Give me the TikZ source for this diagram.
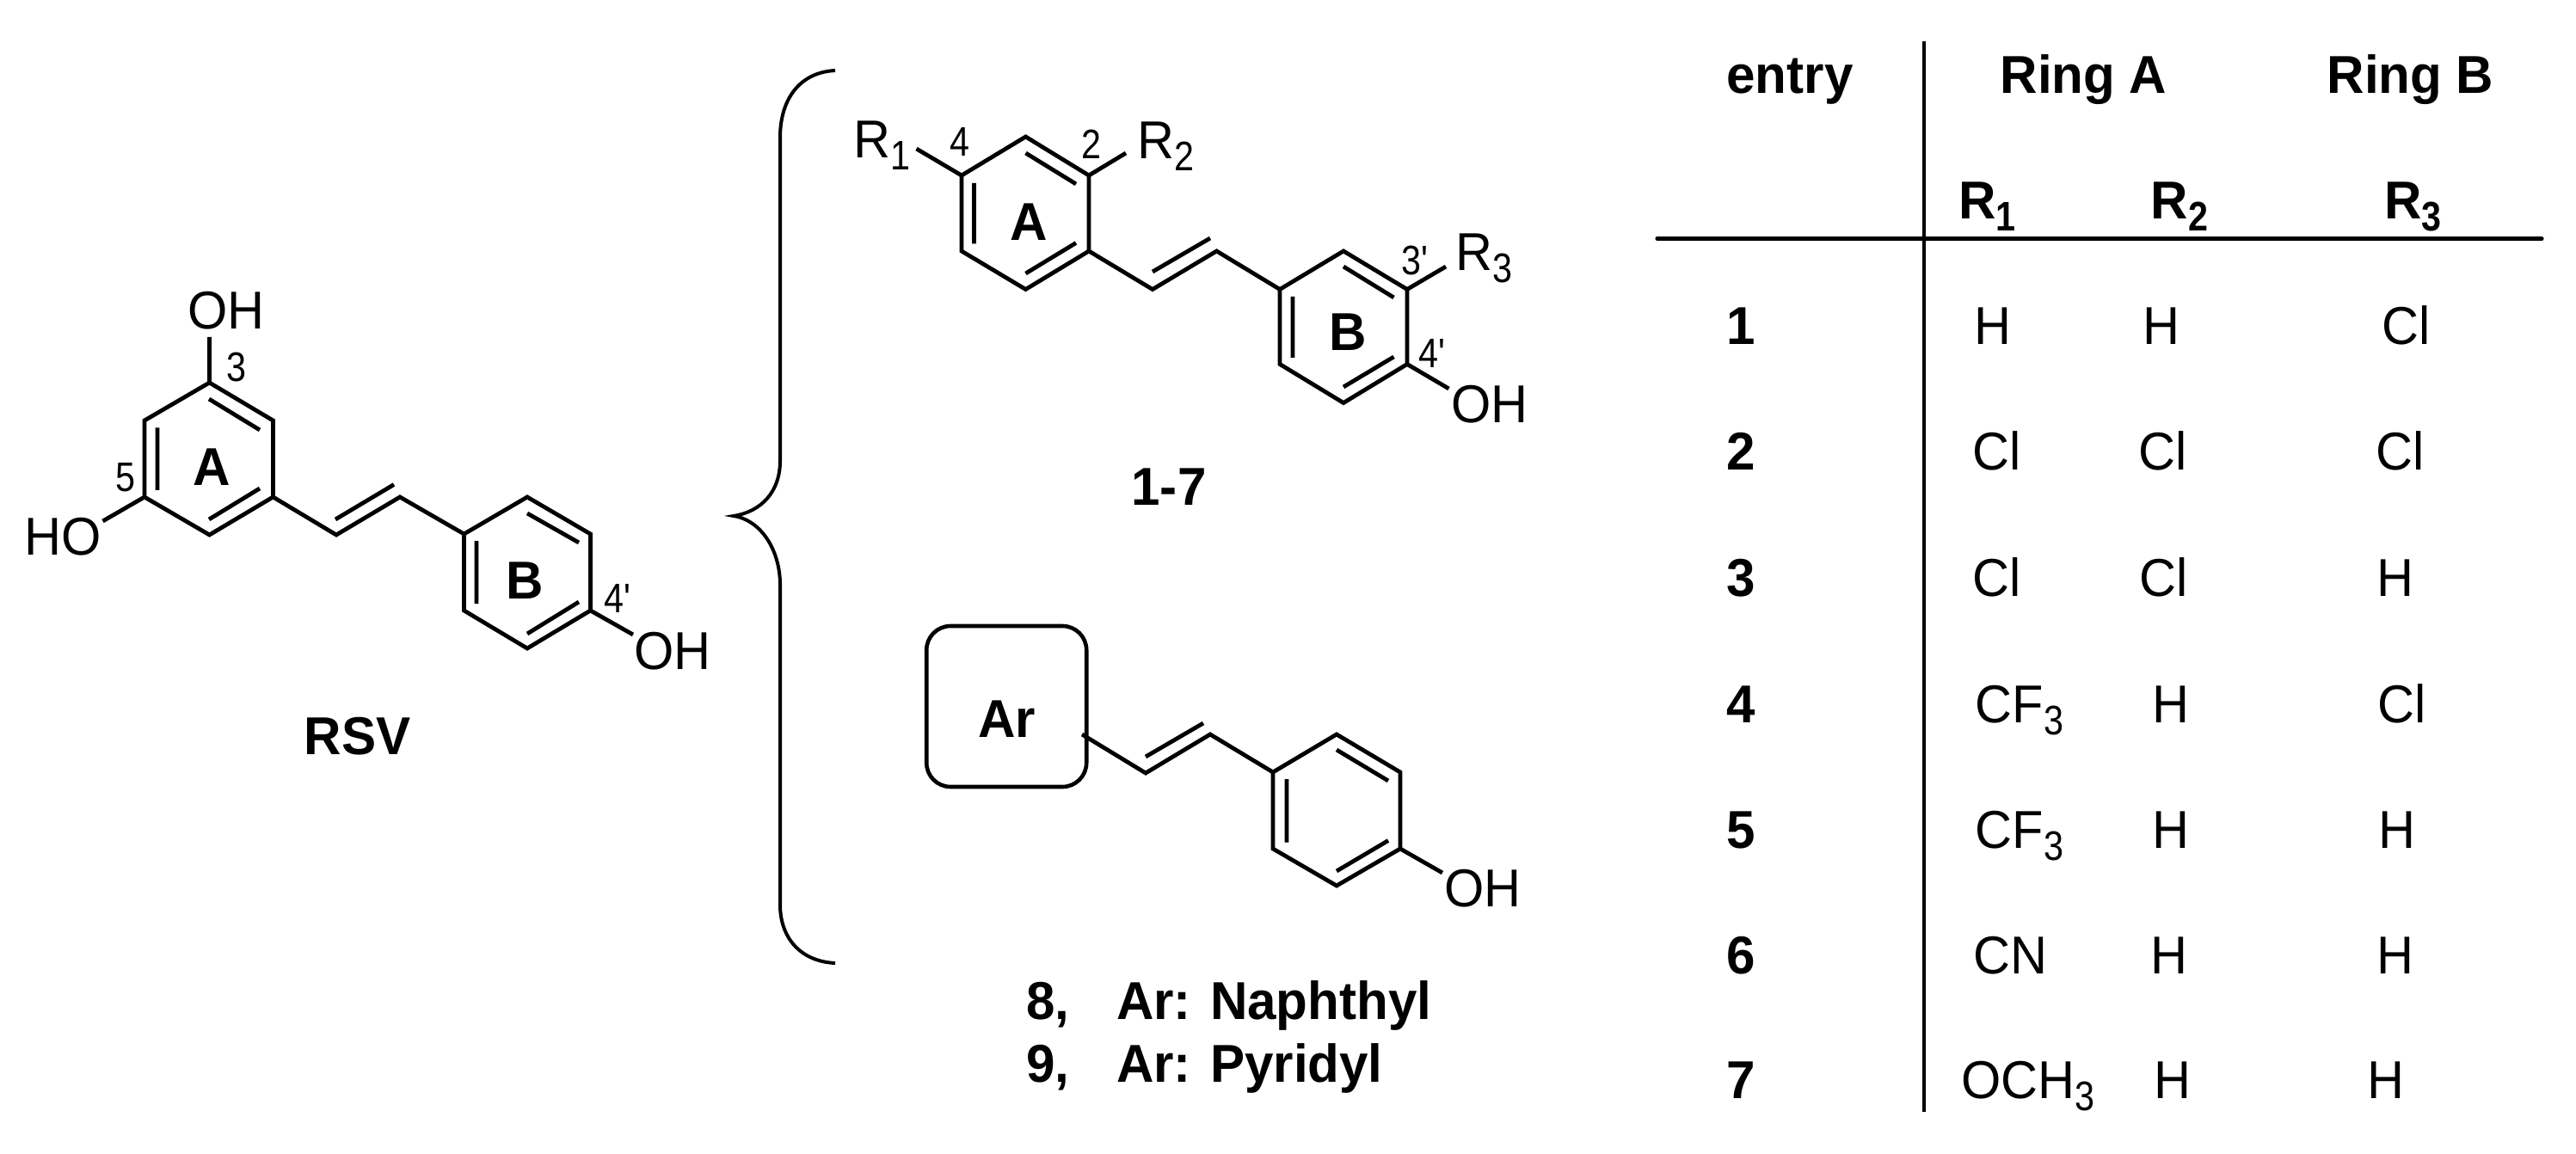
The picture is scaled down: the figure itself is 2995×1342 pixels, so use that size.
\documentclass[tikz,border=0pt]{standalone}
\usepackage{fontspec}
\setmainfont[FakeStretch=0.96,BoldFeatures={FakeStretch=0.97}]{Liberation Sans}
\newfontfamily\numfont[FakeStretch=0.86]{Liberation Sans}
\newcommand{\subdown}[1]{\raisebox{-7pt}{\numfont\fontsize{24}{24}\selectfont #1}}
\newcommand{\subdownb}[1]{\raisebox{-7pt}{\numfont\bfseries\fontsize{24}{24}\selectfont #1}}
\tikzset{
  x=0.5pt,y=-0.5pt,
  bond/.style={line width=2.4pt,line join=miter,line cap=butt,black},
  lab/.style={inner sep=0pt,outer sep=0pt,anchor=base,font=\fontsize{31}{31}\selectfont},
  blab/.style={inner sep=0pt,outer sep=0pt,anchor=base,font=\fontsize{31}{31}\selectfont\bfseries},
  num/.style={inner sep=0pt,outer sep=0pt,anchor=base,font=\numfont\fontsize{24}{24}\selectfont},
}
\begin{document}
\begin{tikzpicture}
\path[use as bounding box] (0,0) rectangle (2995,1342);
% ---------- RSV ----------
\coordinate (a1) at (243.5,445); \coordinate (a2) at (317.5,489); \coordinate (a3) at (317.5,578);
\coordinate (a4) at (243.5,622); \coordinate (a5) at (168,578); \coordinate (a6) at (168,489);
\coordinate (v1) at (391,622); \coordinate (v2) at (465,578);
\coordinate (b1) at (539.5,621); \coordinate (b2) at (613,578); \coordinate (b3) at (686.5,621);
\coordinate (b4) at (686.5,710); \coordinate (b5) at (613,754); \coordinate (b6) at (539.5,710);
\coordinate (oh1) at (243.5,392); \coordinate (oh2) at (119.5,606); \coordinate (oh3) at (736,738);
\draw[bond] (a1)--(a2)--(a3)--(a4)--(a5)--(a6)--cycle;
\draw[bond] (b1)--(b2)--(b3)--(b4)--(b5)--(b6)--cycle;
\draw[bond] (a3)--(v1)--(v2)--(b1);
\draw[bond] (a1)--(oh1) (a5)--(oh2) (b4)--(oh3);
\coordinate (ai1s) at (243,464); \coordinate (ai1e) at (302,500);
\coordinate (ai2s) at (183,497.5); \coordinate (ai2e) at (183,570);
\coordinate (ai3s) at (243,604); \coordinate (ai3e) at (302,568);
\coordinate (vis) at (390,604); \coordinate (vie) at (458,563.5);
\coordinate (bi1s) at (613,597); \coordinate (bi1e) at (673,631);
\coordinate (bi2s) at (554,629); \coordinate (bi2e) at (554,702);
\coordinate (bi3s) at (613,737); \coordinate (bi3e) at (673,700);
\draw[bond] (ai1s)--(ai1e) (ai2s)--(ai2e) (ai3s)--(ai3e) (vis)--(vie) (bi1s)--(bi1e) (bi2s)--(bi2e) (bi3s)--(bi3e);
\node[lab] (rsvOHa) at (263,383) {OH};
\node[lab] (rsvHO) at (73,646) {HO};
\node[lab] (rsvOHb) at (782,778) {OH};
\node[num] (rsv3) at (274.5,444) {3};
\node[num] (rsv5) at (145.5,572) {5};
\node[num] (rsv4p) at (718,712) {4'};
\node[blab] (rsvA) at (246,565) {A};
\node[blab] (rsvB) at (610,697) {B};
\node[blab] (rsvname) at (415.5,877) {RSV};
% ---------- brace ----------
\coordinate (br1) at (971,82); \coordinate (br2) at (907,160); \coordinate (br3) at (907,536);
\coordinate (br4) at (853,600); \coordinate (br5) at (907,680); \coordinate (br6) at (907,1052);
\coordinate (br7) at (971,1120);
\draw[line width=2pt,line join=miter,black] (br1) .. controls (930,84) and (907,115) .. (br2) -- (br3)
  .. controls (907,572) and (885,595) .. (br4) .. controls (885,605) and (907,640) .. (br5) -- (br6)
  .. controls (907,1090) and (930,1118) .. (br7);
% ---------- 1-7 ----------
\coordinate (c1) at (1192.5,159); \coordinate (c2) at (1266,204); \coordinate (c3) at (1266,292);
\coordinate (c4) at (1192.5,336.5); \coordinate (c5) at (1118,292); \coordinate (c6) at (1118,204);
\coordinate (w1) at (1340,336.5); \coordinate (w2) at (1414.5,292);
\coordinate (d1) at (1488,336.5); \coordinate (d2) at (1562,292); \coordinate (d3) at (1636,336.5);
\coordinate (d4) at (1636,423.5); \coordinate (d5) at (1562,468.5); \coordinate (d6) at (1488,423.5);
\coordinate (r1b) at (1065.5,173); \coordinate (r2b) at (1309,178); \coordinate (r3b) at (1681,310); \coordinate (ohb) at (1684.5,452);
\draw[bond] (c1)--(c2)--(c3)--(c4)--(c5)--(c6)--cycle;
\draw[bond] (d1)--(d2)--(d3)--(d4)--(d5)--(d6)--cycle;
\draw[bond] (c3)--(w1)--(w2)--(d1);
\draw[bond] (c6)--(r1b) (c2)--(r2b) (d3)--(r3b) (d4)--(ohb);
\coordinate (ci1s) at (1192.5,178); \coordinate (ci1e) at (1251,214);
\coordinate (ci2s) at (1132.5,213); \coordinate (ci2e) at (1132.5,283.5);
\coordinate (ci3s) at (1192.5,318); \coordinate (ci3e) at (1251,282.5);
\coordinate (wis) at (1340,316); \coordinate (wie) at (1407,277);
\coordinate (di1s) at (1562,310); \coordinate (di1e) at (1620.5,346);
\coordinate (di2s) at (1503,345); \coordinate (di2e) at (1503,416);
\coordinate (di3s) at (1562,450); \coordinate (di3e) at (1620.5,415);
\draw[bond] (ci1s)--(ci1e) (ci2s)--(ci2e) (ci3s)--(ci3e) (wis)--(wie) (di1s)--(di1e) (di2s)--(di2e) (di3s)--(di3e);
\node[lab] (sR1) at (1025,184) {R\subdown{1}};
\node[lab] (sR2) at (1355,185) {R\subdown{2}};
\node[lab] (sR3) at (1725,315) {R\subdown{3}};
\node[lab] (sOH) at (1732,492) {OH};
\node[num] (s4) at (1116,182) {4};
\node[num] (s2) at (1268.5,185) {2};
\node[num] (s3p) at (1645,320) {3'};
\node[num] (s4p) at (1665,428) {4'};
\node[blab] (sA) at (1196,280) {A};
\node[blab] (sB) at (1567,408) {B};
\node[blab] (sname) at (1359,588) {1-7};
% ---------- 8,9 ----------
\node[draw,line width=2.3pt,rounded corners=14pt,minimum width=93pt,minimum height=93.5pt,inner sep=0pt] (arbox) at (1170.2,821.5) {};
\node[blab] (arlab) at (1170.5,857) {Ar};
\coordinate (x0) at (1258,854); \coordinate (x1) at (1332,899); \coordinate (x2) at (1407,854);
\coordinate (e1) at (1480,898); \coordinate (e2) at (1554,854); \coordinate (e3) at (1628,898);
\coordinate (e4) at (1628,987); \coordinate (e5) at (1554,1030); \coordinate (e6) at (1480,987);
\coordinate (ohc) at (1677,1015);
\draw[bond] (e1)--(e2)--(e3)--(e4)--(e5)--(e6)--cycle;
\draw[bond] (x0)--(x1)--(x2)--(e1);
\draw[bond] (e4)--(ohc);
\coordinate (xis) at (1332,880); \coordinate (xie) at (1399,841);
\coordinate (ei1s) at (1554,872); \coordinate (ei1e) at (1614,908);
\coordinate (ei2s) at (1496,906); \coordinate (ei2e) at (1496,979.5);
\coordinate (ei3s) at (1554,1013); \coordinate (ei3e) at (1614,977.5);
\draw[bond] (xis)--(xie) (ei1s)--(ei1e) (ei2s)--(ei2e) (ei3s)--(ei3e);
\node[lab] (ohOH) at (1724,1054) {OH};
\node[blab,anchor=base west] (n8) at (1193,1185.5) {8,};
\node[blab,anchor=base west] (n8t) at (1298,1185.5) {Ar: Naphthyl};
\node[blab,anchor=base west] (n9) at (1193,1258.5) {9,};
\node[blab,anchor=base west] (n9t) at (1298,1258.5) {Ar: Pyridyl};
% ---------- table ----------
\coordinate (vt) at (2237,48); \coordinate (vb) at (2237,1293);
\coordinate (hl) at (1927,277.5); \coordinate (hr) at (2955,277.5);
\draw[line width=2.2pt,black] (vt)--(vb);
\draw[line width=2.6pt,line cap=round,black] (hl)--(hr);
\node[blab] (tentry) at (2081,109) {entry};
\node[blab] (tringa) at (2422.5,109) {Ring A};
\node[blab] (tringb) at (2802.5,109) {Ring B};
\node[blab] (tr1) at (2310.5,255) {R\subdownb{1}};
\node[blab] (tr2) at (2534,255) {R\subdownb{2}};
\node[blab] (tr3) at (2805.5,255) {R\subdownb{3}};
\node[blab] (t1) at (2024,401) {1};
\node[blab] (t2) at (2024,547) {2};
\node[blab] (t3) at (2024,693) {3};
\node[blab] (t4) at (2024,840) {4};
\node[blab] (t5) at (2024,986) {5};
\node[blab] (t6) at (2024,1132) {6};
\node[blab] (t7) at (2024,1277) {7};
\node[lab] (c11) at (2316.5,401) {H};
\node[lab] (c12) at (2512.5,401) {H};
\node[lab] (c13) at (2798,401) {Cl};
\node[lab] (c21) at (2322,547) {Cl};
\node[lab] (c22) at (2515,547) {Cl};
\node[lab] (c23) at (2791,547) {Cl};
\node[lab] (c31) at (2322,693) {Cl};
\node[lab] (c32) at (2515.5,693) {Cl};
\node[lab] (c33) at (2785,693) {H};
\node[lab] (c41) at (2348,840) {CF\subdown{3}};
\node[lab] (c42) at (2523.5,840) {H};
\node[lab] (c43) at (2793,840) {Cl};
\node[lab] (c51) at (2348,986) {CF\subdown{3}};
\node[lab] (c52) at (2523.5,986) {H};
\node[lab] (c53) at (2786.5,986) {H};
\node[lab] (c61) at (2337,1132) {CN};
\node[lab] (c62) at (2521.5,1132) {H};
\node[lab] (c63) at (2784.5,1132) {H};
\node[lab] (c71) at (2358,1277) {OCH\subdown{3}};
\node[lab] (c72) at (2526,1277) {H};
\node[lab] (c73) at (2774,1277) {H};
\end{tikzpicture}
\end{document}
